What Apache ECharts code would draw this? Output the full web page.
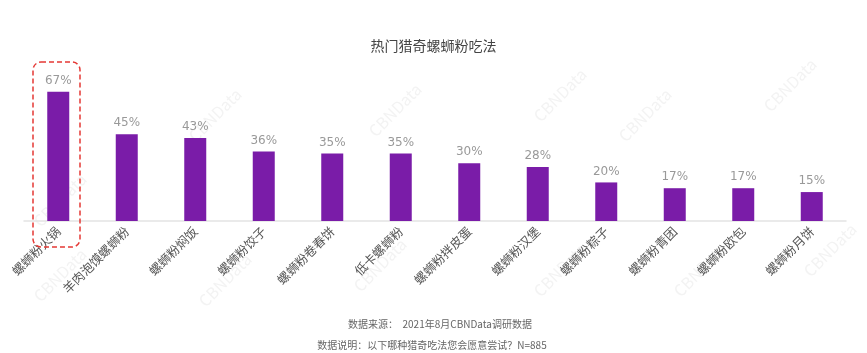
<!DOCTYPE html>
<html>
<head>
<meta charset="utf-8">
<script src="https://cdn.jsdelivr.net/npm/echarts@6/dist/echarts.min.js"></script>
<style>
  html, body { margin: 0; padding: 0; background: #fff; }
  #main { width: 867px; height: 353px; }
</style>
</head>
<body>
<div id="main"></div>
<script>
  var categories = ['螺蛳粉火锅', '羊肉泡馍螺蛳粉', '螺蛳粉焖饭', '螺蛳粉饺子', '螺蛳粉卷春饼', '低卡螺蛳粉',
    '螺蛳粉拌皮蛋', '螺蛳粉汉堡', '螺蛳粉粽子', '螺蛳粉青团', '螺蛳粉欧包', '螺蛳粉月饼'];
  var shares = [67, 45, 43, 36, 35, 35, 30, 28, 20, 17, 17, 15];
  var notes = ['数据来源：  2021年8月CBNData调研数据', '数据说明：以下哪种猎奇吃法您会愿意尝试？N=885'];

  var font = '"Noto Sans CJK SC", "Noto Sans", sans-serif';
  var chart = echarts.init(document.getElementById('main'));

  // faint watermark text
  var marks = [[60, 200], [215, 115], [395, 110], [560, 95], [645, 115], [790, 85],
    [60, 275], [225, 280], [380, 265], [560, 270], [700, 270], [830, 250]];
  var graphics = marks.map(function (p) {
    return {
      type: 'text', x: p[0], y: p[1], rotation: Math.PI / 4, silent: true, z: 0,
      style: { text: 'CBNData', fill: '#f3f3f3', font: '16px ' + font, align: 'center', verticalAlign: 'middle' }
    };
  });
  graphics.push({
    type: 'rect', shape: { x: 33, y: 62, width: 47, height: 185, r: 8 }, z: 10,
    style: { fill: 'none', stroke: '#e53935', lineWidth: 1.5, lineDash: [5, 3] }
  });
  graphics.push({
    type: 'text', x: 440, y: 324,
    style: { text: notes[0], fill: '#666', font: '10px ' + font, align: 'center', verticalAlign: 'middle' }
  });
  graphics.push({
    type: 'text', x: 432, y: 345,
    style: { text: notes[1], fill: '#666', font: '10px ' + font, align: 'center', verticalAlign: 'middle' }
  });

  var option = {
    animation: false,
    title: {
      text: '热门猎奇螺蛳粉吃法',
      left: 'center',
      top: 34,
      textStyle: { fontSize: 14, fontWeight: 'normal', color: '#444', fontFamily: font }
    },
    grid: { left: 24, right: 21, top: 86, bottom: 132, containLabel: false },
    xAxis: {
      type: 'category',
      data: categories,
      axisLine: { lineStyle: { color: '#e3e3e3', width: 1.5 } },
      axisTick: { show: false },
      axisLabel: { rotate: 45, interval: 0, color: '#555', fontSize: 12.5, fontFamily: font, margin: 8 }
    },
    yAxis: {
      type: 'value',
      min: 0,
      max: 70,
      show: false,
      splitLine: { show: false }
    },
    series: [{
      type: 'bar',
      data: shares,
      barWidth: 22,
      itemStyle: { color: '#7a1ca8' },
      label: {
        show: true,
        position: 'top',
        distance: 5,
        formatter: '{c}%',
        color: '#999',
        fontSize: 12,
        fontFamily: '"DejaVu Sans", sans-serif'
      }
    }],
    graphic: graphics
  };

  chart.setOption(option);
</script>
</body>
</html>
